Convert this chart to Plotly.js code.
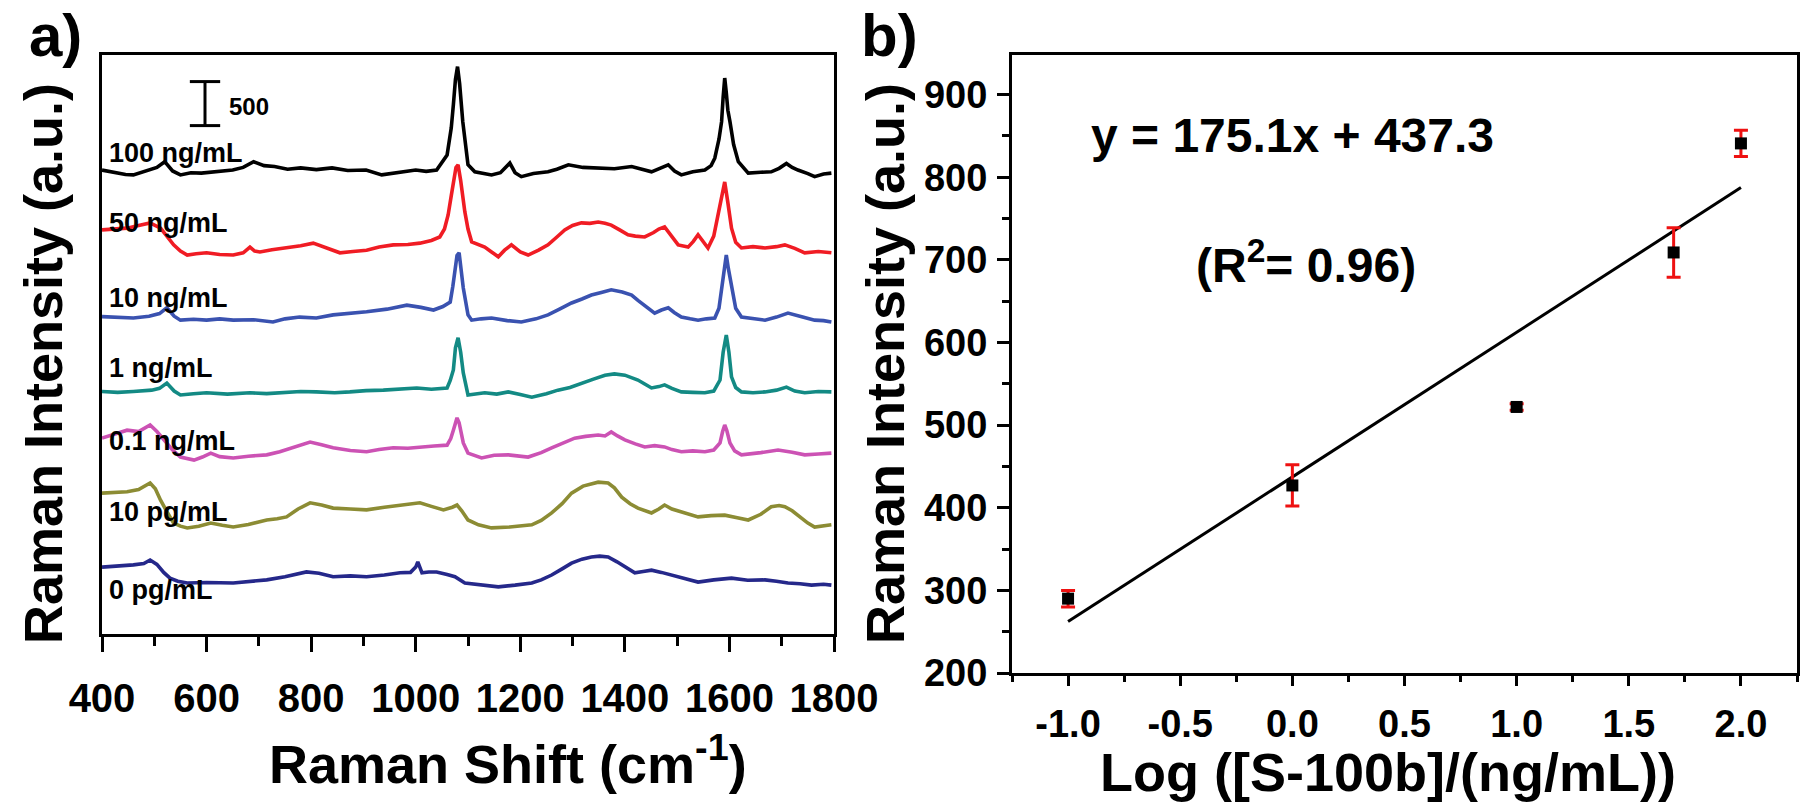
<!DOCTYPE html>
<html>
<head>
<meta charset="utf-8">
<script src="https://cdn.plot.ly/plotly-3.0.1.min.js"></script>
<style>html,body{margin:0;padding:0;background:#fff;}#chart{width:1800px;height:810px;}</style>
</head>
<body>
<div id="chart"></div>
<script>
// ---------- Panel a) : stacked Raman spectra (a.u.) ----------
const spectrumLabels = ["100 ng/mL", "50 ng/mL", "10 ng/mL", "1 ng/mL", "0.1 ng/mL", "10 pg/mL", "0 pg/mL"];

const shift100ng = [400,415,430,445,460,475,490,505,520,535,550,570,590,620,650,670,690,710,730,755,780,810,840,870,905,935,965,1000,1020,1040,1060,1068,1072,1076,1080,1084,1090,1100,1113,1130,1145,1162,1180,1190,1202,1225,1253,1270,1292,1320,1349,1380,1413,1430,1451,1467,1483,1495,1508,1530,1553,1565,1572,1580,1585,1588,1591,1594,1597,1601,1608,1617,1636,1660,1680,1695,1709,1720,1731,1750,1763,1780,1795];
const int100ng = [5270,5250,5235,5220,5215,5245,5270,5300,5365,5260,5215,5240,5235,5255,5270,5300,5365,5320,5310,5280,5295,5275,5295,5265,5270,5215,5245,5270,5255,5270,5440,5750,6010,6300,6445,6250,5820,5330,5250,5230,5215,5240,5350,5240,5195,5230,5250,5280,5330,5300,5295,5285,5310,5280,5250,5290,5330,5260,5215,5250,5270,5320,5405,5620,5820,6100,6315,6150,5950,5820,5560,5365,5235,5245,5250,5290,5345,5300,5270,5230,5195,5225,5235];

const shift50ng = [400,420,448,470,492,512,525,537,550,563,580,600,625,651,670,683,692,702,725,753,780,804,830,855,880,906,930,957,985,1008,1030,1046,1055,1062,1068,1072,1077,1081,1086,1094,1100,1107,1120,1132,1145,1158,1170,1183,1200,1215,1235,1253,1270,1285,1300,1317,1333,1349,1362,1374,1390,1406,1420,1438,1455,1465,1476,1490,1502,1521,1531,1540,1550,1559,1570,1578,1585,1591,1597,1604,1612,1623,1645,1668,1690,1706,1725,1744,1770,1795];
const int50ng = [4590,4600,4610,4640,4670,4610,4510,4420,4350,4305,4320,4330,4310,4305,4330,4395,4350,4340,4365,4385,4410,4440,4385,4330,4345,4360,4395,4420,4425,4440,4470,4510,4600,4760,4980,5135,5300,5330,5150,4795,4600,4455,4420,4395,4340,4285,4360,4420,4340,4305,4360,4420,4510,4590,4640,4670,4665,4680,4665,4645,4590,4535,4520,4510,4560,4600,4625,4520,4420,4395,4460,4535,4450,4385,4520,4760,5000,5135,4900,4610,4450,4385,4400,4385,4400,4420,4380,4330,4345,4330];

const shift10ng = [400,430,460,490,510,524,538,550,575,600,625,651,690,727,750,778,810,842,875,906,945,983,1010,1034,1052,1066,1071,1075,1079,1083,1087,1091,1100,1107,1125,1145,1175,1202,1230,1253,1275,1298,1318,1336,1355,1374,1395,1413,1425,1438,1457,1470,1483,1495,1508,1525,1540,1556,1572,1580,1585,1590,1594,1598,1604,1612,1623,1645,1668,1690,1712,1740,1763,1780,1795];
const int10ng = [3605,3600,3590,3610,3640,3705,3610,3565,3575,3565,3580,3565,3570,3545,3580,3600,3590,3625,3640,3660,3690,3735,3710,3680,3720,3770,3950,4160,4300,4330,4150,3930,3625,3565,3580,3590,3560,3545,3580,3625,3690,3760,3805,3850,3880,3910,3885,3850,3790,3735,3645,3680,3705,3650,3600,3580,3565,3580,3590,3700,3930,4200,4305,4150,3930,3700,3600,3580,3565,3600,3645,3600,3565,3560,3545];

const shift1ng = [400,430,460,495,510,524,538,550,575,600,640,683,715,746,780,810,845,874,905,938,970,1002,1030,1060,1066,1072,1076,1081,1086,1091,1100,1115,1132,1155,1177,1200,1222,1250,1272,1295,1317,1340,1362,1380,1400,1412,1425,1438,1451,1465,1476,1490,1508,1530,1553,1570,1582,1588,1594,1599,1604,1612,1623,1645,1668,1690,1709,1725,1744,1770,1795];
const int1ng = [2755,2745,2755,2770,2790,2850,2760,2715,2730,2740,2725,2740,2730,2740,2755,2750,2740,2750,2765,2770,2780,2795,2780,2795,2880,3000,3250,3365,3200,2965,2715,2730,2740,2725,2750,2720,2690,2730,2770,2800,2850,2895,2940,2955,2940,2915,2885,2840,2795,2810,2830,2790,2750,2745,2740,2760,2885,3200,3395,3200,2920,2800,2750,2740,2750,2770,2805,2760,2740,2755,2750];

const shift01ng = [400,425,448,470,492,505,518,535,550,576,592,608,625,651,680,715,740,766,798,820,842,875,906,930,957,985,1008,1035,1060,1067,1072,1076,1079,1083,1087,1091,1100,1126,1150,1177,1215,1240,1260,1283,1304,1325,1349,1362,1374,1386,1400,1420,1438,1457,1476,1490,1508,1530,1553,1570,1582,1587,1591,1595,1601,1610,1623,1660,1693,1720,1744,1770,1795];
const int01ng = [2225,2270,2315,2300,2375,2300,2205,2090,2010,1975,2010,2055,2015,2000,2020,2035,2070,2115,2180,2150,2115,2085,2070,2095,2115,2110,2125,2135,2145,2220,2315,2420,2455,2400,2260,2170,2055,2000,2030,2035,2010,2060,2115,2170,2225,2245,2260,2250,2295,2250,2205,2160,2125,2140,2125,2095,2070,2080,2070,2090,2170,2300,2375,2310,2170,2080,2035,2060,2090,2065,2035,2045,2055];

const shift10pg = [400,425,448,470,492,502,512,525,537,550,563,585,608,630,651,680,715,735,753,775,798,820,842,875,906,940,970,990,1008,1030,1053,1070,1079,1088,1094,1100,1120,1145,1180,1222,1240,1260,1280,1298,1320,1349,1368,1380,1394,1410,1425,1451,1465,1476,1490,1508,1525,1540,1565,1591,1615,1636,1660,1680,1695,1706,1720,1731,1750,1763,1780,1795];
const int10pg = [1600,1610,1615,1640,1715,1650,1520,1380,1260,1225,1205,1225,1260,1235,1215,1245,1295,1310,1330,1420,1490,1465,1430,1420,1410,1440,1465,1480,1490,1450,1410,1440,1465,1400,1350,1295,1240,1205,1215,1240,1290,1375,1480,1600,1680,1725,1715,1660,1555,1480,1430,1375,1420,1465,1420,1385,1355,1330,1345,1350,1320,1295,1360,1445,1460,1445,1400,1350,1260,1215,1230,1240];

const shift0pg = [400,430,460,480,492,505,518,530,545,563,600,651,690,715,750,791,815,842,875,906,940,970,990,1000,1004,1008,1012,1025,1040,1060,1075,1094,1125,1158,1190,1222,1240,1260,1280,1298,1318,1336,1352,1368,1385,1400,1419,1435,1451,1470,1489,1515,1540,1570,1604,1635,1668,1690,1712,1735,1757,1780,1795];
const int0pg = [760,770,785,800,840,790,700,635,600,580,585,580,600,615,650,705,690,650,660,650,670,695,700,760,820,760,695,705,705,675,650,580,560,535,555,580,615,670,740,805,850,875,885,875,820,760,695,710,725,700,670,620,590,615,635,610,615,600,580,570,555,565,555];

const spectrumColors = ["#000000", "#f01c24", "#3a52b0", "#138a84", "#cc52b4", "#8c8c34", "#25288a"];

// scale bar (500 a.u.)
const scaleBarValue = 500;
const scaleBarShift = 597;
const scaleBarTop = 6275;

// ---------- Panel b) : calibration ----------
const logConc = [-1.0, 0.0, 1.0, 1.7, 2.0];
const ramanIntensity = [290, 427, 522, 709, 841];
const intensityError = [10, 25, 4, 30, 16];
const fitLogConc = [-1.0, 2.0];
const fitIntensity = [262.2, 787.5];
const bTickVals = [-1.0, -0.5, 0.0, 0.5, 1.0, 1.5, 2.0];
const bTickText = ["-1.0", "-0.5", "0.0", "0.5", "1.0", "1.5", "2.0"];

// ---------- build ----------
const FONT = "Liberation Sans, Arial, Helvetica, sans-serif";
const spectraX = [shift100ng, shift50ng, shift10ng, shift1ng, shift01ng, shift10pg, shift0pg];
const spectraY = [int100ng, int50ng, int10ng, int1ng, int01ng, int10pg, int0pg];

const traces = [];
for (let i = 0; i < spectraX.length; i++) {
  traces.push({
    type: "scatter", mode: "lines", x: spectraX[i], y: spectraY[i],
    xaxis: "x", yaxis: "y", name: spectrumLabels[i],
    line: {color: spectrumColors[i], width: 3.6}, hoverinfo: "skip"
  });
}
// scale bar
traces.push({
  type: "scatter", mode: "lines", xaxis: "x", yaxis: "y",
  x: [scaleBarShift - 29, scaleBarShift + 29, null, scaleBarShift, scaleBarShift, null, scaleBarShift - 29, scaleBarShift + 29],
  y: [scaleBarTop, scaleBarTop, null, scaleBarTop, scaleBarTop - scaleBarValue, null, scaleBarTop - scaleBarValue, scaleBarTop - scaleBarValue],
  line: {color: "#000", width: 3}, hoverinfo: "skip"
});
// fit line
traces.push({
  type: "scatter", mode: "lines", x: fitLogConc, y: fitIntensity, xaxis: "x2", yaxis: "y2",
  line: {color: "#000", width: 3}, hoverinfo: "skip"
});
// data points with error bars
traces.push({
  type: "scatter", mode: "markers", x: logConc, y: ramanIntensity, xaxis: "x2", yaxis: "y2",
  marker: {symbol: "square", size: 12, color: "#000"},
  error_y: {type: "data", array: intensityError, visible: true, color: "#ee1111", thickness: 3, width: 7},
  hoverinfo: "skip"
});

const tickFont = {family: FONT, size: 40, color: "#000", weight: "bold"};
const tickFont2 = {family: FONT, size: 38, color: "#000", weight: "bold"};

const spectrumLabelY = [150, 220, 295, 365, 438, 509, 587];
const annotations = [];
for (let i = 0; i < spectrumLabels.length; i++) {
  annotations.push({
    xref: "paper", yref: "paper", x: 107 / 1800, y: 1 - (spectrumLabelY[i] + 3) / 810,
    xanchor: "left", yanchor: "middle", showarrow: false, text: spectrumLabels[i],
    font: {family: FONT, size: 27, color: "#000", weight: "bold"}
  });
}
function ann(text, xpx, ypx, size, extra) {
  return Object.assign({
    xref: "paper", yref: "paper", x: xpx / 1800, y: 1 - ypx / 810,
    xanchor: "center", yanchor: "middle", showarrow: false, text: text,
    font: {family: FONT, size: size, color: "#000", weight: "bold"}
  }, extra || {});
}
annotations.push(ann("500", 227, 106, 24, {xanchor: "left"}));
annotations.push(ann("a)", 55, 0, 60, {yanchor: "top"}));
annotations.push(ann("b)", 889, 0, 60, {yanchor: "top"}));
annotations.push(ann("Raman Intensity (a.u.)", 43, 364, 54, {textangle: -90}));
annotations.push(ann("Raman Intensity (a.u.)", 885, 364, 54, {textangle: -90}));
annotations.push(ann("Raman Shift (cm<sup>-1</sup>)", 508, 760, 54));
annotations.push(ann("Log ([S-100b]/(ng/mL))", 1388, 772, 54));
annotations.push(ann("y = 175.1x + 437.3", 1292, 136, 48));
annotations.push(ann("(R<sup>2</sup>= 0.96)", 1306, 262, 48));

const layout = {
  width: 1800, height: 810,
  margin: {l: 0, r: 0, t: 0, b: 0, pad: 0},
  paper_bgcolor: "#fff", plot_bgcolor: "#fff",
  showlegend: false,
  xaxis: {
    domain: [102 / 1800, 834 / 1800], anchor: "y", range: [400, 1800],
    tickmode: "linear", tick0: 400, dtick: 200,
    ticks: "outside", ticklen: 15, tickwidth: 3, tickcolor: "#000",
    showline: true, linewidth: 3, linecolor: "#000", mirror: true,
    showgrid: false, zeroline: false, tickfont: tickFont, ticklabelstandoff: 12,
    minor: {ticks: "outside", tick0: 400, dtick: 100, ticklen: 9, tickwidth: 3, tickcolor: "#000", showgrid: false}
  },
  yaxis: {
    domain: [176 / 810, 755 / 810], anchor: "x", range: [0, 6577],
    showline: true, linewidth: 3, linecolor: "#000", mirror: true,
    ticks: "", showticklabels: false, showgrid: false, zeroline: false
  },
  xaxis2: {
    domain: [1012 / 1800, 1797 / 1800], anchor: "y2", range: [-1.25, 2.25],
    tickmode: "array", tickvals: bTickVals, ticktext: bTickText,
    ticks: "outside", ticklen: 10, tickwidth: 3, tickcolor: "#000",
    showline: true, linewidth: 3, linecolor: "#000", mirror: true,
    showgrid: false, zeroline: false, tickfont: tickFont2, ticklabelstandoff: 5,
    minor: {ticks: "outside", tickmode: "linear", tick0: -1, dtick: 0.25, ticklen: 6, tickwidth: 3, tickcolor: "#000", showgrid: false}
  },
  yaxis2: {
    domain: [137 / 810, 755 / 810], anchor: "x2", range: [200, 948],
    tickmode: "linear", tick0: 200, dtick: 100,
    ticks: "outside", ticklen: 12, tickwidth: 3, tickcolor: "#000",
    showline: true, linewidth: 3, linecolor: "#000", mirror: true,
    showgrid: false, zeroline: false, tickfont: tickFont2, ticklabelstandoff: 2,
    minor: {ticks: "outside", tick0: 200, dtick: 50, ticklen: 7, tickwidth: 3, tickcolor: "#000", showgrid: false}
  },
  annotations: annotations
};

Plotly.newPlot("chart", traces, layout, {displayModeBar: false, staticPlot: true});
</script>
</body>
</html>
